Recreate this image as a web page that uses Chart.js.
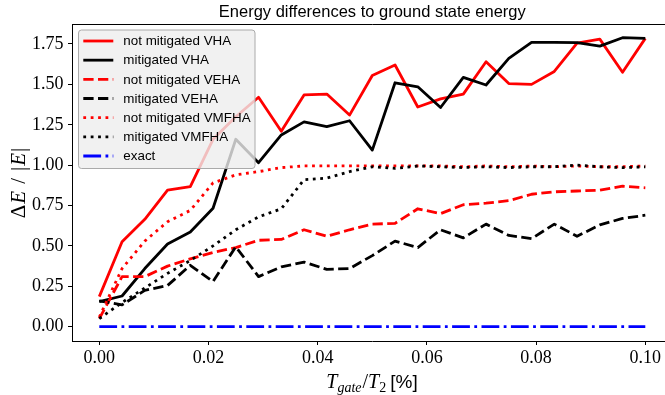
<!DOCTYPE html>
<html><head><meta charset="utf-8">
<script src="https://cdn.jsdelivr.net/npm/chart.js@4/dist/chart.umd.min.js"></script>
<style>
html,body{margin:0;padding:0;background:#fff;overflow:hidden;width:665px;height:395px;}
#wrap{position:relative;width:744px;height:395px;}
canvas{display:block;}
</style></head><body>
<div id="wrap"><canvas id="c" width="744" height="395"></canvas></div>
<script>
// ---- data ----
const tGate = [0, 0.004167, 0.008333, 0.0125, 0.016667, 0.020833, 0.025, 0.029167, 0.033333, 0.0375, 0.041667, 0.045833, 0.05, 0.054167, 0.058333, 0.0625, 0.066667, 0.070833, 0.075, 0.079167, 0.083333, 0.0875, 0.091667, 0.095833, 0.1];
const notMitigatedVHA = [0.186, 0.526, 0.665, 0.846, 0.867, 1.16, 1.30, 1.42, 1.21, 1.435, 1.44, 1.31, 1.555, 1.62, 1.36, 1.41, 1.44, 1.64, 1.505, 1.50, 1.58, 1.755, 1.78, 1.575, 1.785];
const mitigatedVHA = [0.155, 0.19, 0.36, 0.512, 0.586, 0.733, 1.16, 1.015, 1.187, 1.268, 1.238, 1.275, 1.093, 1.51, 1.485, 1.357, 1.543, 1.496, 1.661, 1.76, 1.76, 1.758, 1.737, 1.789, 1.785];
const notMitigatedVEHA = [0.05, 0.31, 0.31, 0.375, 0.42, 0.46, 0.49, 0.535, 0.54, 0.60, 0.56, 0.60, 0.635, 0.64, 0.73, 0.70, 0.755, 0.765, 0.78, 0.82, 0.835, 0.84, 0.845, 0.87, 0.86];
const mitigatedVEHA = [0.16, 0.135, 0.225, 0.255, 0.38, 0.28, 0.495, 0.31, 0.37, 0.40, 0.355, 0.36, 0.44, 0.53, 0.49, 0.60, 0.55, 0.635, 0.565, 0.545, 0.635, 0.56, 0.63, 0.67, 0.69];
const notMitigatedVMFHA = [0.06, 0.36, 0.53, 0.65, 0.72, 0.89, 0.94, 0.96, 0.985, 0.995, 0.995, 0.995, 0.995, 0.995, 0.995, 0.995, 0.99, 0.995, 0.99, 0.995, 0.99, 0.995, 0.99, 0.99, 0.995];
const mitigatedVMFHA = [0.05, 0.15, 0.24, 0.33, 0.41, 0.50, 0.60, 0.68, 0.73, 0.91, 0.92, 0.96, 0.99, 0.98, 0.995, 0.99, 0.985, 0.99, 0.985, 0.99, 0.99, 1.0, 0.99, 0.985, 0.99];
const exact = [0, 0, 0, 0, 0, 0, 0, 0, 0, 0, 0, 0, 0, 0, 0, 0, 0, 0, 0, 0, 0, 0, 0, 0, 0];
const seriesLabels = ['not mitigated VHA', 'mitigated VHA', 'not mitigated VEHA', 'mitigated VEHA', 'not mitigated VMFHA', 'mitigated VMFHA', 'exact'];
const xTicks = [0, 0.02, 0.04, 0.06, 0.08, 0.10];
const yTicks = [0, 0.25, 0.5, 0.75, 1.0, 1.25, 1.5, 1.75];
const chartTitle = 'Energy differences to ground state energy';

// ---- styles ----
const LW = 2.8;
const DASHED = [10.3, 4.4], DOTTED = [2.8, 4.6], DASHDOT = [17.8, 4.4, 2.8, 4.4];
const seriesValues = [notMitigatedVHA, mitigatedVHA, notMitigatedVEHA, mitigatedVEHA, notMitigatedVMFHA, mitigatedVMFHA, exact];
const seriesColors = ['#ff0000', '#000000', '#ff0000', '#000000', '#ff0000', '#000000', '#0000ff'];
const seriesDash = [[], [], DASHED, DASHED, DOTTED, DOTTED, DASHDOT];

const datasets = seriesValues.map((vals, i) => ({
  label: seriesLabels[i],
  data: tGate.map((x, j) => ({x: x, y: vals[j]})),
  borderColor: seriesColors[i],
  backgroundColor: seriesColors[i],
  borderWidth: LW,
  borderDash: seriesDash[i],
  borderJoinStyle: 'round',
  borderCapStyle: 'butt',
  pointRadius: 0,
  fill: false,
  tension: 0,
  order: seriesValues.length - i
}));

const SERIF = "'Liberation Serif', 'Times New Roman', serif";
const SANS = "'Liberation Sans', Arial, sans-serif";

function drawPieces(ctx, pieces, cx, baseY) {
  let total = 0;
  pieces.forEach(p => { ctx.font = p.f; p.w = ctx.measureText(p.t).width; total += p.w + (p.g || 0); });
  let x = cx - total / 2;
  ctx.textAlign = 'left';
  ctx.textBaseline = 'alphabetic';
  pieces.forEach(p => { ctx.font = p.f; ctx.fillText(p.t, x, baseY + (p.dy || 0)); x += p.w + (p.g || 0); });
}

const decor = {
  id: 'decor',
  afterDatasetsDraw(chart) {
    const ctx = chart.ctx;
    // legend
    ctx.save();
    const L = {x: 78.5, y: 30, w: 176.5, h: 138.5, r: 3};
    ctx.beginPath();
    ctx.roundRect(L.x, L.y, L.w, L.h, L.r);
    ctx.fillStyle = 'rgba(238,238,238,0.8)';
    ctx.fill();
    ctx.lineWidth = 1;
    ctx.strokeStyle = 'rgba(170,170,170,1)';
    ctx.stroke();
    const rowH = 19.17;
    chart.data.datasets.forEach((ds, i) => {
      const yc = 41 + i * rowH;
      ctx.beginPath();
      ctx.setLineDash(ds.borderDash || []);
      ctx.lineWidth = LW;
      ctx.strokeStyle = ds.borderColor;
      ctx.lineCap = 'butt';
      ctx.moveTo(83.3, yc);
      ctx.lineTo(113.3, yc);
      ctx.stroke();
      ctx.setLineDash([]);
      ctx.fillStyle = '#000';
      ctx.font = '13.4px ' + SANS;
      ctx.textAlign = 'left';
      ctx.textBaseline = 'middle';
      ctx.fillText(ds.label, 123.3, yc + 0.5);
    });
    ctx.restore();
  },
  afterDraw(chart) {
    const ctx = chart.ctx;
    const a = chart.chartArea;
    ctx.save();
    ctx.strokeStyle = '#000';
    ctx.lineWidth = 1;
    ctx.beginPath();
    ctx.moveTo(a.left, a.top + 0.5);
    ctx.lineTo(a.right, a.top + 0.5);
    ctx.lineTo(a.right, a.bottom);
    ctx.stroke();
    ctx.fillStyle = '#000';
    // x axis title
    drawPieces(ctx, [
      {t: 'T', f: 'italic 20px ' + SERIF},
      {t: 'gate', f: 'italic 14px ' + SERIF, dy: 4, g: 1},
      {t: '/', f: '20px ' + SERIF},
      {t: 'T', f: 'italic 20px ' + SERIF},
      {t: '2', f: '14px ' + SERIF, dy: 4, g: 4},
      {t: '[%]', f: '19px ' + SANS}
    ], 372, 388);
    // y axis title
    ctx.translate(25, 183);
    ctx.rotate(-Math.PI / 2);
    drawPieces(ctx, [
      {t: 'Δ', f: '21px ' + SERIF, g: 1},
      {t: 'E', f: 'italic 21px ' + SERIF, g: 7},
      {t: '/', f: '21px ' + SERIF, g: 7},
      {t: '|', f: '21px ' + SERIF, g: 1},
      {t: 'E', f: 'italic 21px ' + SERIF, g: 1},
      {t: '|', f: '21px ' + SERIF}
    ], 0, 0);
    ctx.restore();
  }
};

new Chart(document.getElementById('c'), {
  type: 'line',
  data: {datasets: datasets},
  plugins: [decor],
  options: {
    responsive: false,
    devicePixelRatio: 1,
    animation: false,
    layout: {padding: {left: 0, right: 71.4, top: 0.2, bottom: 0}},
    plugins: {
      legend: {display: false},
      tooltip: {enabled: false},
      title: {
        display: true,
        text: chartTitle,
        fullSize: false,
        color: '#000',
        font: {family: SANS, size: 16.5, weight: 'normal'},
        padding: {top: 2, bottom: 2}
      }
    },
    scales: {
      x: {
        type: 'linear',
        min: -0.005,
        max: 0.105,
        bounds: 'data',
        afterBuildTicks: s => { s.ticks = xTicks.map(v => ({value: v})); },
        afterFit: s => { s.height = 54; },
        ticks: {
          callback: v => v.toFixed(2),
          color: '#000',
          font: {family: SERIF, size: 18},
          padding: 2,
          maxRotation: 0,
          autoSkip: false
        },
        grid: {drawOnChartArea: false, drawTicks: true, tickLength: 4, color: '#000', lineWidth: 1},
        border: {display: true, color: '#000', width: 1}
      },
      y: {
        type: 'linear',
        min: -0.0885,
        max: 1.8738,
        bounds: 'data',
        afterBuildTicks: s => { s.ticks = yTicks.map(v => ({value: v})); },
        afterFit: s => { s.width = 72; },
        ticks: {
          callback: v => v.toFixed(2),
          color: '#000',
          font: {family: SERIF, size: 18},
          padding: 4.5,
          autoSkip: false
        },
        grid: {drawOnChartArea: false, drawTicks: true, tickLength: 4, color: '#000', lineWidth: 1},
        border: {display: true, color: '#000', width: 1}
      }
    }
  }
});
</script>
</body></html>
